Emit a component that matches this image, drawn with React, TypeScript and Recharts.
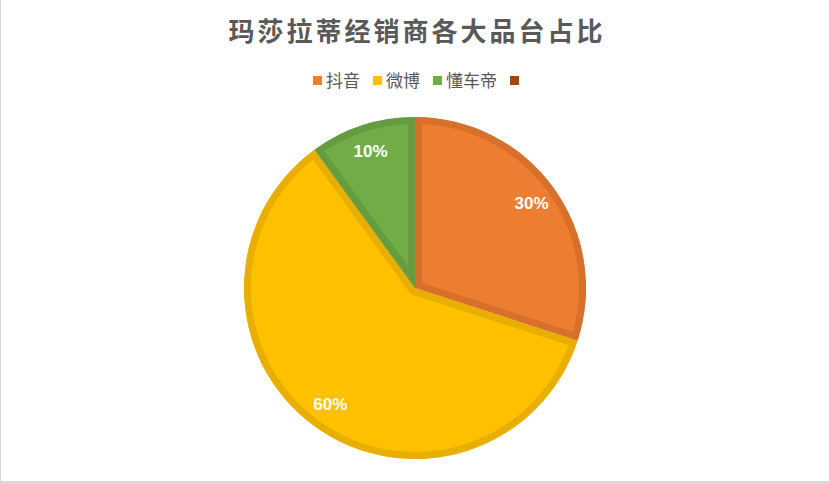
import React from 'react';
import { PieChart, Pie, Cell, Sector } from 'recharts';

const title = '玛莎拉蒂经销商各大品台占比';
const categories = ['抖音', '微博', '懂车帝', ''];
const shares = [30, 60, 10, 0];
const fillColors = ['#ED7D31', '#FFC000', '#70AD47', '#9E480E'];
const borderColors = ['#D6702B', '#E8AE00', '#649C3F', '#8E410D'];

const data = categories.map((name, i) => ({ name, value: shares[i] }));

const RAD = Math.PI / 180;

const InsetSector = (props: any) => {
  const { cx, cy, innerRadius, outerRadius, startAngle, endAngle, fill, stroke } = props;
  if (Math.abs(endAngle - startAngle) < 1e-6) return null;
  const id = `clip-${Math.round(startAngle * 1000)}-${Math.round(endAngle * 1000)}`;
  return (
    <g>
      <defs>
        <clipPath id={id}>
          <Sector cx={cx} cy={cy} innerRadius={innerRadius} outerRadius={outerRadius} startAngle={startAngle} endAngle={endAngle} />
        </clipPath>
      </defs>
      <Sector
        cx={cx}
        cy={cy}
        innerRadius={innerRadius}
        outerRadius={outerRadius}
        startAngle={startAngle}
        endAngle={endAngle}
        fill={fill}
        stroke={stroke}
        strokeWidth={14}
        clipPath={`url(#${id})`}
      />
    </g>
  );
};

const renderLabel = (props: any) => {
  const { cx, cy, midAngle, percent, value } = props;
  if (!value) return null;
  const r = 144;
  const x = cx + r * Math.cos(-midAngle * RAD);
  const y = cy + r * Math.sin(-midAngle * RAD);
  return (
    <text
      x={x}
      y={y}
      fill="#FFFFFF"
      textAnchor="middle"
      dominantBaseline="central"
      fontSize={17}
      fontWeight="bold"
      fontFamily="'Liberation Sans Narrow', 'Liberation Sans', Arial, sans-serif"
    >
      {`${Math.round(percent * 100)}%`}
    </text>
  );
};

export default function App() {
  return (
    <div
      style={{
        position: 'absolute',
        left: 0,
        top: 0,
        width: 829,
        height: 484,
        background: '#FFFFFF',
        boxSizing: 'border-box',
        borderLeft: '1px solid #D9D9D9',
        borderBottom: '3px solid #D9D9D9',
        overflow: 'hidden',
      }}
    >
      <div
        style={{
          position: 'absolute',
          left: 0,
          top: 16,
          width: 829,
          textAlign: 'center',
          fontSize: 26,
          lineHeight: '28px',
          fontWeight: 'bold',
          letterSpacing: 3,
          paddingLeft: 3,
          boxSizing: 'border-box',
          color: '#595959',
          fontFamily: "'Noto Sans CJK SC', sans-serif",
        }}
      >
        {title}
      </div>
      <div
        style={{
          position: 'absolute',
          left: 312,
          top: 69,
          display: 'flex',
          alignItems: 'center',
          height: 22,
        }}
      >
        {categories.map((c, i) => (
          <div key={i} style={{ display: 'flex', alignItems: 'center', marginRight: 13 }}>
            <span style={{ display: 'inline-block', width: 9, height: 9, background: fillColors[i], marginRight: 4 }} />
            <span style={{ fontSize: 17, color: '#595959', fontFamily: "'Noto Sans CJK SC', sans-serif", lineHeight: '22px' }}>{c}</span>
          </div>
        ))}
      </div>
      <div style={{ position: 'absolute', left: -1, top: 0 }}>
        <PieChart width={829} height={481} margin={{ top: 0, right: 0, bottom: 0, left: 0 }}>
          <Pie
            data={data}
            dataKey="value"
            nameKey="name"
            cx={415}
            cy={288}
            innerRadius={0}
            outerRadius={171}
            startAngle={90}
            endAngle={-270}
            stroke="none"
            shape={InsetSector}
            label={renderLabel}
            labelLine={false}
            isAnimationActive={false}
          >
            {data.map((d, i) => (
              <Cell key={i} fill={fillColors[i]} stroke={borderColors[i]} />
            ))}
          </Pie>
        </PieChart>
      </div>
    </div>
  );
}
